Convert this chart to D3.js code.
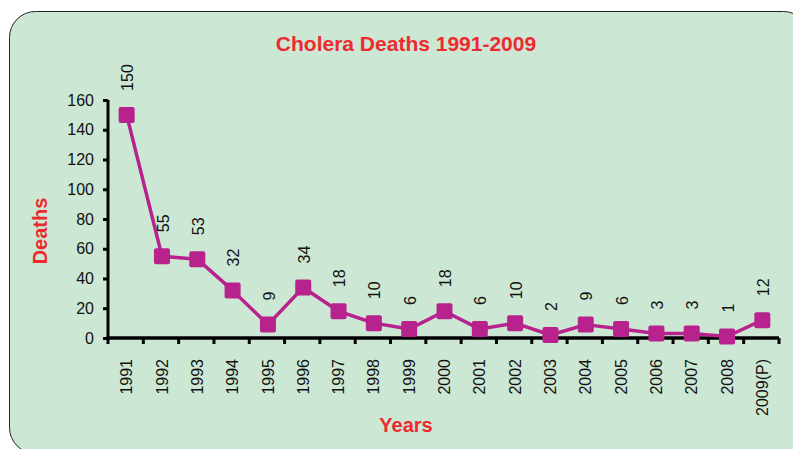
<!DOCTYPE html>
<html>
<head>
<meta charset="utf-8">
<script src="https://cdn.jsdelivr.net/npm/d3@7/dist/d3.min.js"></script>
<style>
  html, body { margin: 0; padding: 0; background: #ffffff; }
  svg { display: block; font-family: "Liberation Sans", Arial, sans-serif; }
</style>
</head>
<body>
<svg id="chart" width="793" height="449"></svg>
<script>
// Cholera deaths per year
const years = ["1991","1992","1993","1994","1995","1996","1997","1998","1999","2000",
               "2001","2002","2003","2004","2005","2006","2007","2008","2009(P)"];
const deaths = [150, 55, 53, 32, 9, 34, 18, 10, 6, 18, 6, 10, 2, 9, 6, 3, 3, 1, 12];
const yTicks = [0, 20, 40, 60, 80, 100, 120, 140, 160];

const title = "Cholera Deaths 1991-2009";
const xTitle = "Years";
const yTitle = "Deaths";

const data = years.map((y, i) => ({ year: y, value: deaths[i] }));

const svg = d3.select("#chart");
const accent = "#ee2a2f";
const lineColor = "#b8228c";

// Panel background
svg.append("rect")
  .attr("x", 9.5).attr("y", 11.5)
  .attr("width", 800).attr("height", 442)
  .attr("rx", 26).attr("ry", 26)
  .attr("fill", "#cde7d5")
  .attr("stroke", "#222")
  .attr("stroke-width", 1);

const plot = { left: 108, right: 779, top: 100, bottom: 338 };

const x = d3.scaleBand()
  .domain(years)
  .range([plot.left, plot.right]);

const y = d3.scaleLinear()
  .domain([0, 160])
  .range([plot.bottom, plot.top]);

// Y axis
const yAxis = svg.append("g")
  .attr("transform", `translate(${plot.left},0)`)
  .call(d3.axisLeft(y).tickValues(yTicks).tickSize(5).tickPadding(9));
yAxis.select(".domain").attr("stroke", "#000").attr("stroke-width", 3)
  .attr("d", `M0,${plot.top}V${plot.bottom}`);
yAxis.selectAll(".tick line").attr("stroke", "#000").attr("stroke-width", 3);
yAxis.selectAll(".tick text").attr("font-size", 16).attr("fill", "#111")
  .attr("font-family", "Liberation Sans, Arial, sans-serif");

// X axis: ticks at band boundaries
const xAxisG = svg.append("g")
  .attr("transform", `translate(0,${plot.bottom})`);
xAxisG.append("line")
  .attr("x1", plot.left - 1.5).attr("x2", plot.right)
  .attr("y1", 0).attr("y2", 0)
  .attr("stroke", "#000").attr("stroke-width", 3.5);
const boundaries = years.map(d => x(d)).concat([x(years[years.length - 1]) + x.bandwidth()]);
xAxisG.selectAll("line.tick")
  .data(boundaries)
  .join("line")
  .attr("class", "tick")
  .attr("x1", d => d).attr("x2", d => d)
  .attr("y1", 0).attr("y2", 6)
  .attr("stroke", "#000").attr("stroke-width", 3);
xAxisG.selectAll("text.label")
  .data(years)
  .join("text")
  .attr("class", "label")
  .attr("transform", d => `translate(${x(d) + x.bandwidth() / 2 + 1},21) rotate(-90)`)
  .attr("text-anchor", "end")
  .attr("dy", "0.35em")
  .attr("font-size", 16)
  .attr("fill", "#111")
  .text(d => d);

// Series line
const cx = d => x(d.year) + x.bandwidth() / 2 + 1;
svg.append("path")
  .datum(data)
  .attr("fill", "none")
  .attr("stroke", lineColor)
  .attr("stroke-width", 3.5)
  .attr("stroke-linejoin", "round")
  .attr("d", d3.line().x(cx).y(d => y(d.value)));

// Square markers
const ms = 16;
svg.selectAll("rect.marker")
  .data(data)
  .join("rect")
  .attr("class", "marker")
  .attr("x", d => cx(d) - ms / 2)
  .attr("y", d => y(d.value) - ms / 2)
  .attr("width", ms).attr("height", ms)
  .attr("rx", 2)
  .attr("fill", lineColor);

// Value labels above each marker
svg.selectAll("text.value")
  .data(data)
  .join("text")
  .attr("class", "value")
  .attr("transform", d => `translate(${cx(d) + 1},${y(d.value) - 24}) rotate(-90)`)
  .attr("text-anchor", "start")
  .attr("dy", "0.35em")
  .attr("font-size", 16)
  .attr("fill", "#111")
  .text(d => d.value);

// Titles
svg.append("text")
  .attr("x", 406).attr("y", 51)
  .attr("text-anchor", "middle")
  .attr("font-size", 21).attr("font-weight", "bold")
  .attr("fill", accent)
  .text(title);

svg.append("text")
  .attr("x", 406).attr("y", 432)
  .attr("text-anchor", "middle")
  .attr("font-size", 20).attr("font-weight", "bold")
  .attr("fill", accent)
  .text(xTitle);

svg.append("text")
  .attr("transform", "translate(47,231) rotate(-90)")
  .attr("text-anchor", "middle")
  .attr("font-size", 20).attr("font-weight", "bold")
  .attr("fill", accent)
  .text(yTitle);
</script>
</body>
</html>
